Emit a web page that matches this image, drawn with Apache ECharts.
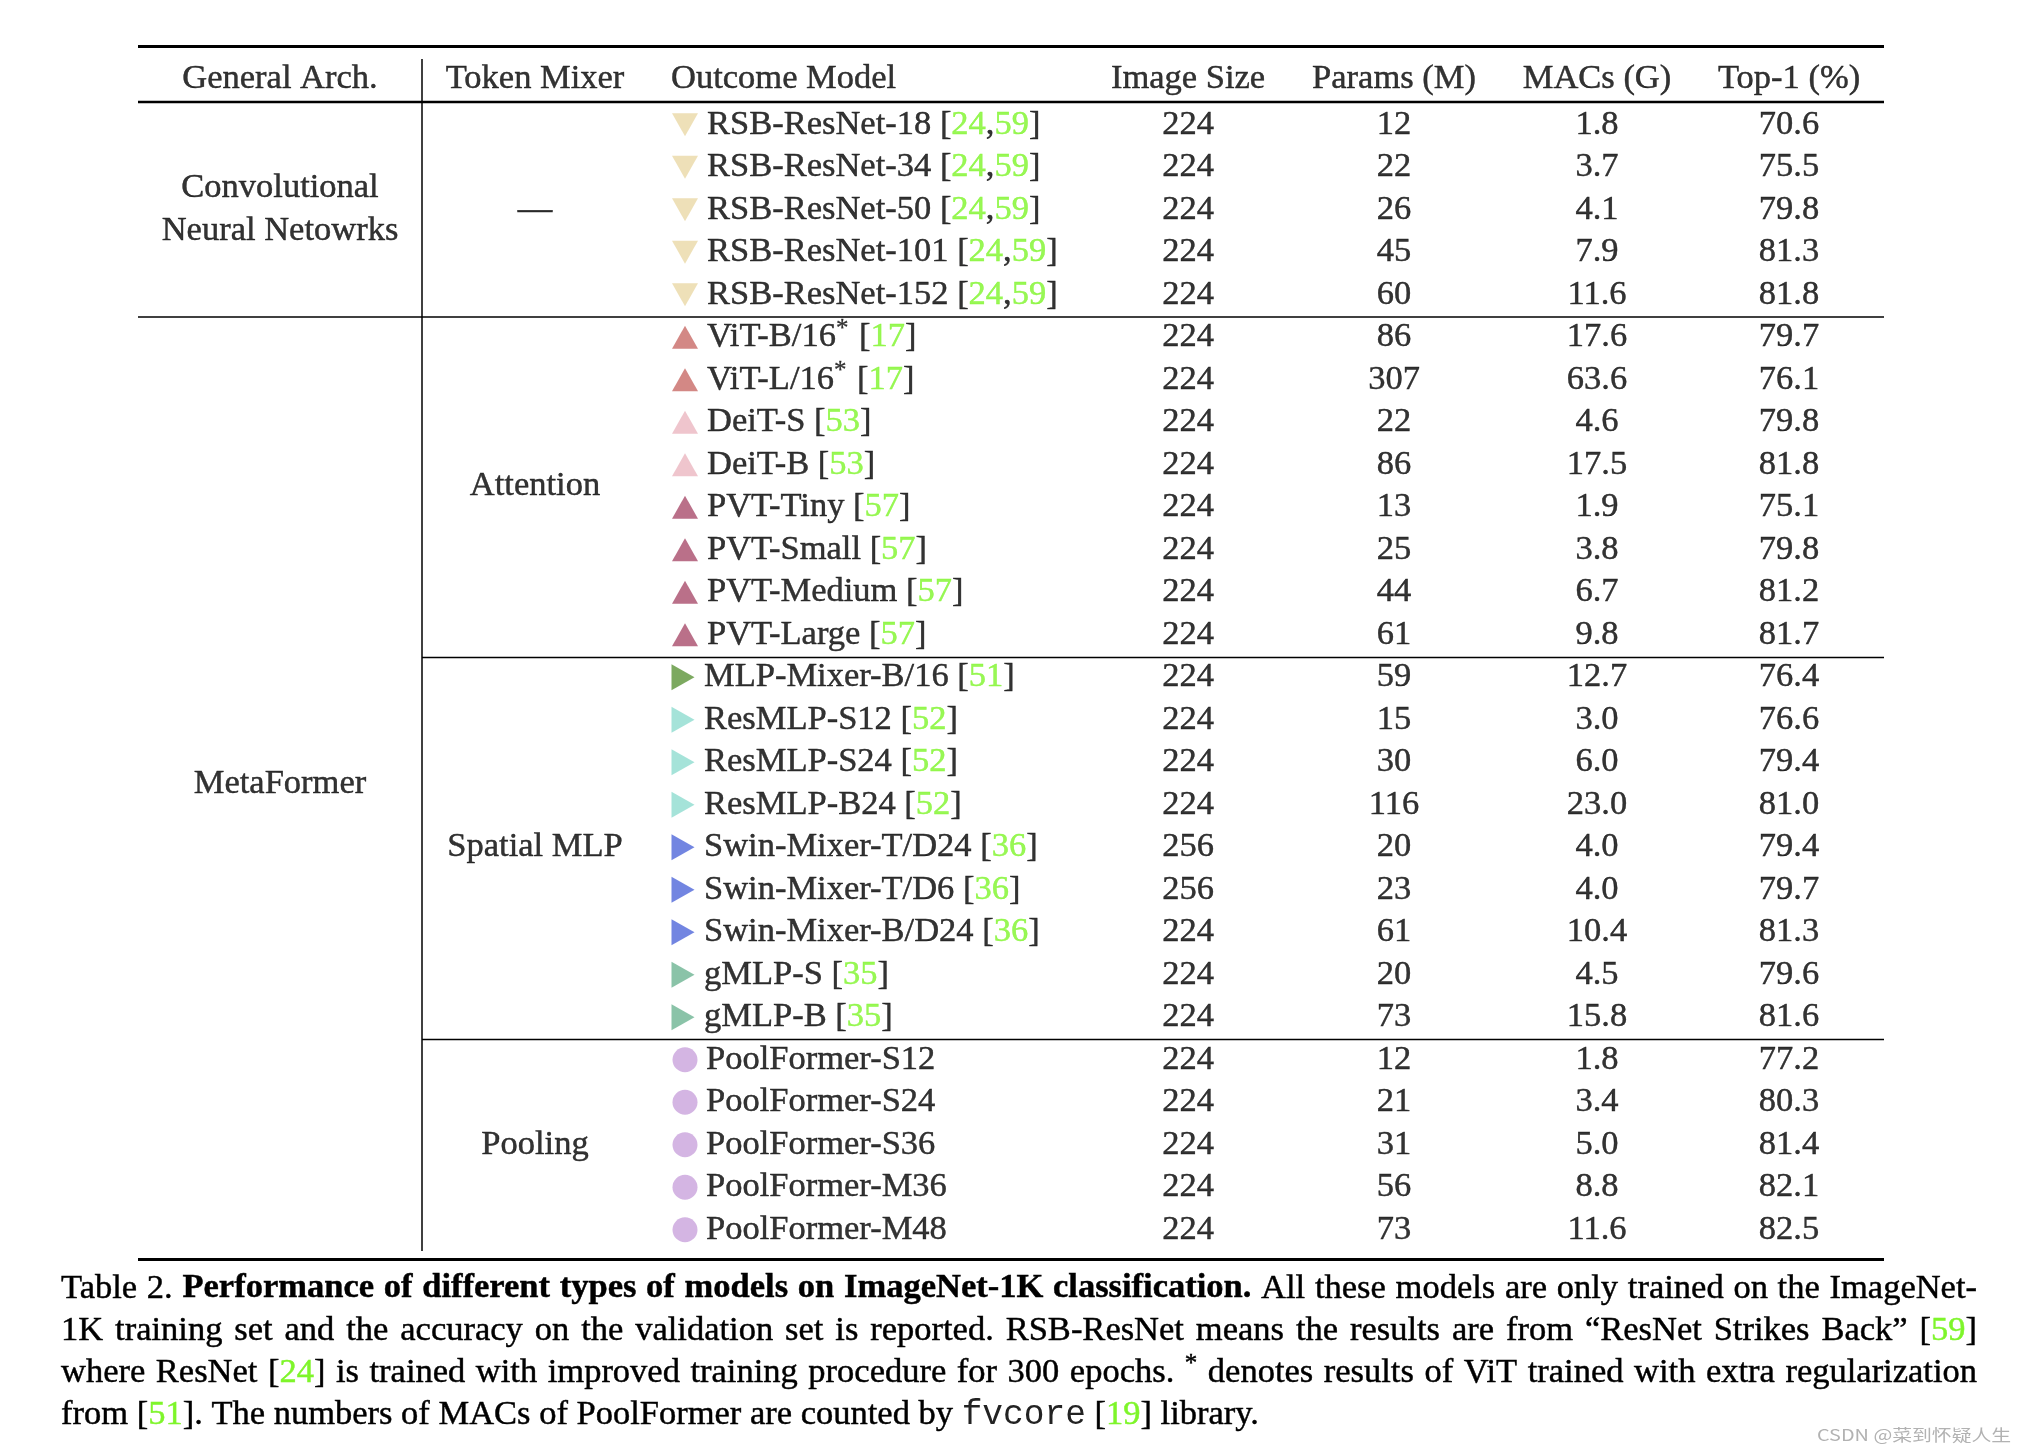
<!DOCTYPE html>
<html><head><meta charset="utf-8">
<script src="https://cdn.jsdelivr.net/npm/echarts@6/dist/echarts.min.js"></script>
<style>html,body{margin:0;padding:0;background:#fff}#c{width:2026px;height:1456px}</style>
</head><body><div id="c"></div>
<script>
// ---------------- DATA ----------------
const headers = ['General Arch.', 'Token Mixer', 'Outcome Model', 'Image Size', 'Params (M)', 'MACs (G)', 'Top-1 (%)'];
const models = ['RSB-ResNet-18','RSB-ResNet-34','RSB-ResNet-50','RSB-ResNet-101','RSB-ResNet-152',
  'ViT-B/16','ViT-L/16','DeiT-S','DeiT-B','PVT-Tiny','PVT-Small','PVT-Medium','PVT-Large',
  'MLP-Mixer-B/16','ResMLP-S12','ResMLP-S24','ResMLP-B24','Swin-Mixer-T/D24','Swin-Mixer-T/D6','Swin-Mixer-B/D24','gMLP-S','gMLP-B',
  'PoolFormer-S12','PoolFormer-S24','PoolFormer-S36','PoolFormer-M36','PoolFormer-M48'];
const modelStar = ['ViT-B/16','ViT-L/16'];
const modelRefs = [['24','59'],['24','59'],['24','59'],['24','59'],['24','59'],
  ['17'],['17'],['53'],['53'],['57'],['57'],['57'],['57'],
  ['51'],['52'],['52'],['52'],['36'],['36'],['36'],['35'],['35'],
  [],[],[],[],[]];
const markerFamily = ['rsb','rsb','rsb','rsb','rsb','vit','vit','deit','deit','pvt','pvt','pvt','pvt',
  'mixer','resmlp','resmlp','resmlp','swin','swin','swin','gmlp','gmlp','pool','pool','pool','pool','pool'];
const imageSize = [224,224,224,224,224,224,224,224,224,224,224,224,224,224,224,224,224,256,256,224,224,224,224,224,224,224,224];
const params = [12,22,26,45,60,86,307,22,86,13,25,44,61,59,15,30,116,20,23,61,20,73,12,21,31,56,73];
const macs = [1.8,3.7,4.1,7.9,11.6,17.6,63.6,4.6,17.5,1.9,3.8,6.7,9.8,12.7,3.0,6.0,23.0,4.0,4.0,10.4,4.5,15.8,1.8,3.4,5.0,8.8,11.6];
const top1 = [70.6,75.5,79.8,81.3,81.8,79.7,76.1,79.8,81.8,75.1,79.8,81.2,81.7,76.4,76.6,79.4,81.0,79.4,79.7,81.3,79.6,81.6,77.2,80.3,81.4,82.1,82.5];
const archNames = ['Convolutional\nNeural Netowrks', 'MetaFormer'];
const archSpans = [[0, 4], [5, 26]];
const mixerNames = ['—', 'Attention', 'Spatial MLP', 'Pooling'];
const mixerSpans = [[0, 4], [5, 12], [13, 21], [22, 26]];
const captionLines = [
  'Table 2. {b|Performance of different types of models on ImageNet-1K classification.} All these models are only trained on the ImageNet-',
  '1K training set and the accuracy on the validation set is reported. RSB-ResNet means the results are from “ResNet Strikes Back” [{g|59}]',
  'where ResNet [{g|24}] is trained with improved training procedure for 300 epochs. {s|*} denotes results of ViT trained with extra regularization',
  'from [{g|51}]. The numbers of MACs of PoolFormer are counted by {m|fvcore} [{g|19}] library.'
];
const watermark = 'CSDN @菜到怀疑人生';

// ---------------- STYLE / LAYOUT ----------------
const SERIF = '"Liberation Serif","Times New Roman",serif';
const MONO = '"Liberation Mono","Courier New",monospace';
const FS = 34.5;
const GREEN = '#7ef52a';
const TEXT_STROKE = 0.45;
const TABLE_W = 1746;
const ROW_H = 42.5;
const GRID_TOP = 103.5;
const COL = {arch: 142, mixer: 397, marker: 547, model: 569, img: 1050, params: 1256, macs: 1459, top1: 1651, vline: 284};
const HEADER_X = [142, 397, 533, 1050, 1256, 1459, 1651];
const HEADER_ALIGN = ['center','center','left','center','center','center','center'];
const NROWS = models.length;
const px2row = y => (y - GRID_TOP) / ROW_H;   // layout helper: page y (px) -> row units
const HEADER_ROW = px2row(78.5);
const markerStyles = {
  rsb:    {symbol: 'triangle', rotate: 180, color: '#ead8a6', size: [26, 23], dx: 0,  textDx: 0},
  vit:    {symbol: 'triangle', rotate: 0,   color: '#c86a66', size: [26, 23], dx: 0,  textDx: 0},
  deit:   {symbol: 'triangle', rotate: 0,   color: '#ebb7c0', size: [26, 23], dx: 0,  textDx: 0},
  pvt:    {symbol: 'triangle', rotate: 0,   color: '#a94c6b', size: [26, 23], dx: 0,  textDx: 0},
  mixer:  {symbol: 'triangle', rotate: -90, color: '#5b9438', size: [26, 23], dx: -2, textDx: -3},
  resmlp: {symbol: 'triangle', rotate: -90, color: '#8fdcd0', size: [26, 23], dx: -2, textDx: -3},
  swin:   {symbol: 'triangle', rotate: -90, color: '#4f67d9', size: [26, 23], dx: -2, textDx: -3},
  gmlp:   {symbol: 'triangle', rotate: -90, color: '#6db492', size: [26, 23], dx: -2, textDx: -3},
  pool:   {symbol: 'circle',   rotate: 0,   color: '#c9a2dc', size: 25,       dx: 0,  textDx: -1}
};

const baseLabel = {show: true, fontFamily: SERIF, fontSize: FS, color: '#000', verticalAlign: 'middle',
  textBorderColor: '#000', textBorderWidth: TEXT_STROKE};
const series = [];

// rules (under everything)
function rule(x0, x1, y0, y1, w) {
  series.push({type: 'line', xAxisIndex: 0, yAxisIndex: 1, clip: false, silent: true, symbol: 'none', z: 1,
    lineStyle: {color: '#000', width: w}, data: [[x0, y0], [x1, y1]]});
}
rule(0, TABLE_W, px2row(46.5), px2row(46.5), 3);
rule(0, TABLE_W, px2row(102), px2row(102), 2.5);
rule(0, TABLE_W, px2row(317), px2row(317), 1.5);
rule(COL.vline, TABLE_W, px2row(657.5), px2row(657.5), 1.5);
rule(COL.vline, TABLE_W, px2row(1039.5), px2row(1039.5), 1.5);
rule(0, TABLE_W, px2row(1259.5), px2row(1259.5), 3);
rule(COL.vline, COL.vline, px2row(59), px2row(1251), 1.5);

// markers
Object.keys(markerStyles).forEach(fam => {
  const st = markerStyles[fam];
  series.push({type: 'scatter', yAxisIndex: 0, symbol: st.symbol, symbolRotate: st.rotate, symbolSize: st.size,
    symbolOffset: [st.dx, 0],
    itemStyle: {color: st.color}, z: 3, silent: true,
    data: models.map((m, i) => markerFamily[i] === fam ? [COL.marker, m] : null).filter(Boolean)});
});

// model names
series.push({type: 'scatter', yAxisIndex: 0, symbolSize: 1, itemStyle: {color: 'transparent'}, z: 4, silent: true,
  data: models.map((m, i) => ({value: [COL.model, m], label: {offset: [markerStyles[markerFamily[i]].textDx, 0]}})),
  label: Object.assign({}, baseLabel, {position: 'inside', align: 'left',
    formatter: p => {
      const i = p.dataIndex, m = models[i];
      let s = m + (modelStar.includes(m) ? '{s|*}' : '');
      if (modelRefs[i].length) s += ' [' + modelRefs[i].map(r => '{g|' + r + '}').join(',') + ']';
      return s;
    },
    rich: {
      g: {color: GREEN, fontFamily: SERIF, fontSize: FS, textBorderColor: GREEN, textBorderWidth: TEXT_STROKE},
      s: {fontFamily: SERIF, fontSize: 25, color: '#000', padding: [0, 2, 16, 0], textBorderColor: '#000', textBorderWidth: 0.3}
    }})
});

// numeric columns
function numCol(x, vals, fmt) {
  series.push({type: 'scatter', yAxisIndex: 0, symbolSize: 1, itemStyle: {color: 'transparent'}, z: 4, silent: true,
    data: models.map((m, i) => [x, m, fmt(vals[i])]),
    label: Object.assign({}, baseLabel, {position: 'inside', align: 'center', formatter: p => p.value[2]})});
}
numCol(COL.img, imageSize, v => String(v));
numCol(COL.params, params, v => String(v));
numCol(COL.macs, macs, v => v.toFixed(1));
numCol(COL.top1, top1, v => v.toFixed(1));

// headers
headers.forEach((h, i) => {
  series.push({type: 'scatter', yAxisIndex: 1, clip: false, symbolSize: 1, itemStyle: {color: 'transparent'}, z: 4, silent: true,
    data: [[HEADER_X[i], HEADER_ROW, h]],
    label: Object.assign({}, baseLabel, {position: 'inside', align: HEADER_ALIGN[i], formatter: p => p.value[2]})});
});

// group labels
function groupCol(x, names, spans) {
  series.push({type: 'scatter', yAxisIndex: 1, clip: false, symbolSize: 1, itemStyle: {color: 'transparent'}, z: 4, silent: true,
    data: names.map((n, i) => [x, (spans[i][0] + spans[i][1] + 1) / 2, n]),
    label: Object.assign({}, baseLabel, {position: 'inside', align: 'center', lineHeight: 43, formatter: p => p.value[2]})});
}
groupCol(COL.arch, archNames, archSpans);
groupCol(COL.mixer, mixerNames, mixerSpans);

// ---------------- CAPTION (justified text) ----------------
const ctx = document.createElement('canvas').getContext('2d');
const segStyle = {
  n: {fontFamily: SERIF, fontSize: FS, fontWeight: 'normal', fill: '#000', dy: 0},
  b: {fontFamily: SERIF, fontSize: FS, fontWeight: 'bold', fill: '#000', dy: 0},
  g: {fontFamily: SERIF, fontSize: FS, fontWeight: 'normal', fill: GREEN, dy: 0},
  m: {fontFamily: MONO, fontSize: FS, fontWeight: 'normal', fill: '#222', dy: 0, thin: true},
  s: {fontFamily: SERIF, fontSize: 25, fontWeight: 'normal', fill: '#000', dy: -8}
};
function measure(seg) {
  const st = segStyle[seg.s];
  ctx.font = st.fontWeight + ' ' + st.fontSize + 'px ' + st.fontFamily;
  return ctx.measureText(seg.t).width;
}
function parseLine(str) {
  const toks = []; const re = /\{(\w)\|([^}]*)\}|([^{]+)/g; let m;
  while ((m = re.exec(str))) { if (m[1]) toks.push({s: m[1], t: m[2]}); else toks.push({s: 'n', t: m[3]}); }
  const words = [[]];
  toks.forEach(tk => {
    tk.t.split(' ').forEach((p, i) => { if (i > 0) words.push([]); if (p) words[words.length - 1].push({s: tk.s, t: p}); });
  });
  return words.filter(w => w.length);
}
const CAP_LEFT = 61, CAP_RIGHT = 1977, CAP_Y0 = 1288.5, CAP_LH = 42.2;
const graphics = [];
ctx.font = 'normal ' + FS + 'px ' + SERIF;
const spaceW = ctx.measureText(' ').width;
captionLines.forEach((line, li) => {
  const words = parseLine(line);
  const widths = words.map(w => w.reduce((a, s) => a + measure(s), 0));
  const total = widths.reduce((a, b) => a + b, 0);
  const last = li === captionLines.length - 1;
  const gap = last ? spaceW : (CAP_RIGHT - CAP_LEFT - total) / (words.length - 1);
  let x = CAP_LEFT;
  const y = CAP_Y0 + li * CAP_LH;
  words.forEach((w, wi) => {
    let sx = x;
    w.forEach(seg => {
      const st = segStyle[seg.s];
      graphics.push({type: 'text', x: sx, y: y + st.dy, silent: true,
        style: {text: seg.t, fontFamily: st.fontFamily, fontSize: st.fontSize, fontWeight: st.fontWeight, fill: st.fill,
          stroke: st.thin ? null : st.fill, lineWidth: st.thin ? 0 : TEXT_STROKE,
          align: 'left', verticalAlign: 'middle'}});
      sx += measure(seg);
    });
    x += widths[wi] + gap;
  });
});
graphics.push({type: 'text', x: 1817, y: 1435, scaleX: 1.24, silent: true,
  style: {text: watermark, fontFamily: '"Noto Sans CJK SC","Noto Sans",sans-serif', fontSize: 16, fill: '#b2b2b2',
    align: 'left', verticalAlign: 'middle'}});

// ---------------- CHART ----------------
const chart = echarts.init(document.getElementById('c'), null, {renderer: 'canvas'});
chart.setOption({
  animation: false,
  backgroundColor: '#fff',
  grid: {left: 138, width: TABLE_W, top: GRID_TOP, height: NROWS * ROW_H, containLabel: false},
  xAxis: {type: 'value', min: 0, max: TABLE_W, show: false},
  yAxis: [
    {type: 'category', data: models, inverse: true, show: false, boundaryGap: true},
    {type: 'value', min: 0, max: NROWS, inverse: true, show: false}
  ],
  series: series,
  graphic: graphics
});
</script></body></html>
